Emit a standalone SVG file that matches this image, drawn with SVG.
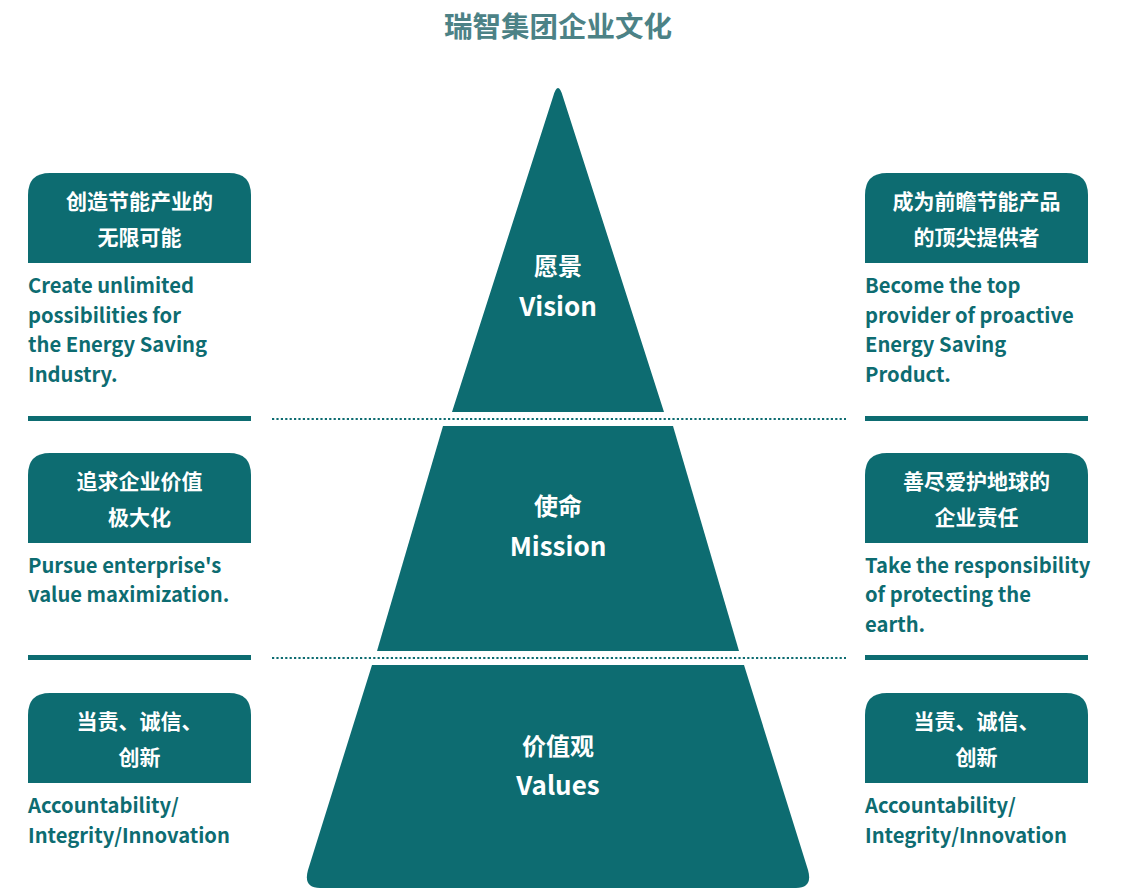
<svg xmlns="http://www.w3.org/2000/svg" width="1126" height="888" viewBox="0 0 1126 888">
<style>
.teal{fill:#0d6c71}
.title{font-family:"Noto Sans CJK SC","Noto Sans",sans-serif;font-weight:700;font-size:28.5px;fill:#4c8286;text-anchor:middle}
.box{fill:#0d6c71}
.bt{font-family:"Noto Sans CJK SC","Noto Sans",sans-serif;font-weight:700;font-size:21px;fill:#ffffff;text-anchor:middle}
.en{font-family:"Noto Sans CJK SC","Noto Sans",sans-serif;font-weight:700;font-size:20.2px;fill:#0d6c71}
.pz{font-family:"Noto Sans CJK SC","Noto Sans",sans-serif;font-weight:700;font-size:24px;fill:#ffffff;text-anchor:middle}
.pe{font-family:"Noto Sans CJK SC","Noto Sans",sans-serif;font-weight:700;font-size:26px;fill:#ffffff;text-anchor:middle}
.dot{stroke:#0d6c71;stroke-width:2.2;stroke-dasharray:2.2 2.2;fill:none}
.bar{fill:#0d6c71}
</style>
<rect width="1126" height="888" fill="#ffffff"/>
<text class="title" x="558" y="37">瑞智集团企业文化</text>

<g id="connectors">
<line class="dot" x1="272" y1="419" x2="846" y2="419"/>
<line class="dot" x1="272" y1="658" x2="846" y2="658"/>
<rect class="bar" x="28" y="416" width="223" height="5"/>
<rect class="bar" x="865" y="416" width="223" height="5"/>
<rect class="bar" x="28" y="655" width="223" height="5"/>
<rect class="bar" x="865" y="655" width="223" height="5"/>
</g>

<g id="vision">
<path class="teal" d="M452,412 L553.3,96 Q558,80 562.7,96 L664,412 Z"/>
<text class="pz" x="558" y="275">愿景</text>
<text class="pe" x="558" y="316">Vision</text>
</g>
<g id="mission">
<path class="teal" d="M443,426 L673,426 L739,651 L377,651 Z"/>
<text class="pz" x="558" y="515">使命</text>
<text class="pe" x="558" y="556">Mission</text>
</g>
<g id="values">
<path class="teal" d="M372,665 L744,665 L808,870 Q813,888 796,888 L320,888 Q303,888 308,870 Z"/>
<text class="pz" x="558" y="755">价值观</text>
<text class="pe" x="558" y="795">Values</text>
</g>

<g id="vision-left">
<path class="box" d="M28,263 L28,195 Q28,173 50,173 L229,173 Q251,173 251,195 L251,263 Z"/>
<text class="bt" x="139.5" y="208.5">创造节能产业的</text>
<text class="bt" x="139.5" y="244.5">无限可能</text>
<text class="en" x="28" y="293">Create unlimited</text>
<text class="en" x="28" y="322.5">possibilities for</text>
<text class="en" x="28" y="352">the Energy Saving</text>
<text class="en" x="28" y="381.5">Industry.</text>
</g>
<g id="vision-right">
<path class="box" d="M865,263 L865,195 Q865,173 887,173 L1066,173 Q1088,173 1088,195 L1088,263 Z"/>
<text class="bt" x="976.5" y="208.5">成为前瞻节能产品</text>
<text class="bt" x="976.5" y="244.5">的顶尖提供者</text>
<text class="en" x="865" y="293">Become the top</text>
<text class="en" x="865" y="322.5">provider of proactive</text>
<text class="en" x="865" y="352">Energy Saving</text>
<text class="en" x="865" y="381.5">Product.</text>
</g>

<g id="mission-left">
<path class="box" d="M28,543 L28,475 Q28,453 50,453 L229,453 Q251,453 251,475 L251,543 Z"/>
<text class="bt" x="139.5" y="488.5">追求企业价值</text>
<text class="bt" x="139.5" y="524.5">极大化</text>
<text class="en" x="28" y="572.5">Pursue enterprise's</text>
<text class="en" x="28" y="602">value maximization.</text>
</g>
<g id="mission-right">
<path class="box" d="M865,543 L865,475 Q865,453 887,453 L1066,453 Q1088,453 1088,475 L1088,543 Z"/>
<text class="bt" x="976.5" y="488.5">善尽爱护地球的</text>
<text class="bt" x="976.5" y="524.5">企业责任</text>
<text class="en" x="865" y="572.5">Take the responsibility</text>
<text class="en" x="865" y="602">of protecting the</text>
<text class="en" x="865" y="631.5">earth.</text>
</g>

<g id="values-left">
<path class="box" d="M28,783 L28,715 Q28,693 50,693 L229,693 Q251,693 251,715 L251,783 Z"/>
<text class="bt" x="139.5" y="728.5">当责、诚信、</text>
<text class="bt" x="139.5" y="764.5">创新</text>
<text class="en" x="28" y="813">Accountability/</text>
<text class="en" x="28" y="842.5">Integrity/Innovation</text>
</g>
<g id="values-right">
<path class="box" d="M865,783 L865,715 Q865,693 887,693 L1066,693 Q1088,693 1088,715 L1088,783 Z"/>
<text class="bt" x="976.5" y="728.5">当责、诚信、</text>
<text class="bt" x="976.5" y="764.5">创新</text>
<text class="en" x="865" y="813">Accountability/</text>
<text class="en" x="865" y="842.5">Integrity/Innovation</text>
</g>
</svg>
